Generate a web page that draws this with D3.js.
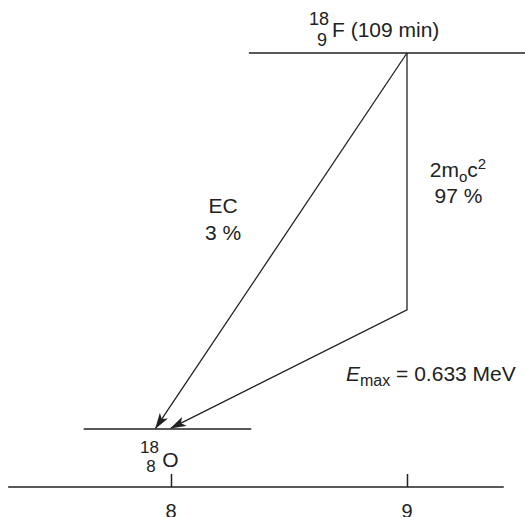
<!DOCTYPE html>
<html>
<head>
<meta charset="utf-8">
<script src="https://cdn.jsdelivr.net/npm/d3@7"></script>
<style>
  body { margin: 0; background: #fff; }
  text { font-family: "Liberation Sans", Arial, sans-serif; fill: #222; }
</style>
</head>
<body>
<div id="chart-area"></div>
<script>
var width = 525, height = 517;

// atomic number axis
var zTicks = [8, 9];
var zDomain = [7.31, 9.41];

// energy levels (MeV, drawn scale) and their Z extent
var levels = [
    { name: "F", z0: 8.33, z1: 9.6, e: 1.655 },
    { name: "O", z0: 7.63, z1: 8.34, e: 0 }
];

// decay branches: from (z, e) through optional bend to (z, e)
var ecBranch = [[9, 1.655], [7.935, 0.004]];
var betaBranch = [[9, 1.655], [9, 0.524], [8.0, 0.004]];

var x = d3.scaleLinear().domain([8, 9]).range([171, 407]);
var y = d3.scaleLinear().domain([0, 1.655]).range([429, 53]);

var svg = d3.select("#chart-area")
    .append("svg")
        .attr("width", width)
        .attr("height", height);

var defs = svg.append("defs");
defs.append("marker")
    .attr("id", "arrow")
    .attr("viewBox", "0 0 16 10")
    .attr("refX", 15)
    .attr("refY", 5)
    .attr("markerWidth", 16)
    .attr("markerHeight", 10)
    .attr("markerUnits", "userSpaceOnUse")
    .attr("orient", "auto")
  .append("path")
    .attr("d", "M0,0 L16,5 L0,10 L4,5 Z")
    .attr("fill", "#222");

// Z axis
var axis = svg.append("g")
    .attr("transform", "translate(0,487)")
    .call(d3.axisTop(x).tickValues(zTicks).tickSize(13).tickFormat(""));
axis.select(".domain").remove();
axis.selectAll("line").attr("stroke", "#222").attr("stroke-width", 1.5);
axis.append("line")
    .attr("x1", x(zDomain[0])).attr("x2", x(zDomain[1]))
    .attr("stroke", "#222").attr("stroke-width", 1.5);
axis.selectAll(".zlab")
    .data(zTicks)
    .enter().append("text")
    .attr("x", d => x(d))
    .attr("y", 31)
    .attr("text-anchor", "middle")
    .style("font-size", "20px")
    .text(d => d);

// levels
svg.selectAll(".level")
    .data(levels)
    .enter().append("line")
    .attr("x1", d => x(d.z0))
    .attr("x2", d => x(d.z1))
    .attr("y1", d => y(d.e))
    .attr("y2", d => y(d.e))
    .attr("stroke", "#222")
    .attr("stroke-width", 1.5);

var line = d3.line().x(d => x(d[0])).y(d => y(d[1]));

svg.selectAll(".branch")
    .data([ecBranch, betaBranch])
    .enter().append("path")
    .attr("d", line)
    .attr("fill", "none")
    .attr("stroke", "#222")
    .attr("stroke-width", 1.3)
    .attr("marker-end", "url(#arrow)");

// labels
var fs = "21px", fsi = "18px";
svg.append("text").attr("x", 332).attr("y", 37).style("font-size", fs).text("F (109 min)");
svg.append("text").attr("x", 319).attr("y", 25).attr("text-anchor", "middle").style("font-size", fsi).text("18");
svg.append("text").attr("x", 322).attr("y", 46).attr("text-anchor", "middle").style("font-size", fsi).text("9");

svg.append("text").attr("x", 149.5).attr("y", 453).attr("text-anchor", "middle").style("font-size", "17px").text("18");
svg.append("text").attr("x", 151).attr("y", 472).attr("text-anchor", "middle").style("font-size", "17px").text("8");
svg.append("text").attr("x", 170.5).attr("y", 467).attr("text-anchor", "middle").style("font-size", fs).text("O");

svg.append("text").attr("x", 223).attr("y", 213).attr("text-anchor", "middle").style("font-size", fs).text("EC");
svg.append("text").attr("x", 223).attr("y", 240).attr("text-anchor", "middle").style("font-size", fs).text("3 %");

var m = svg.append("text").attr("x", 458).attr("y", 177).attr("text-anchor", "middle").style("font-size", fs);
m.append("tspan").text("2m");
m.append("tspan").attr("dy", 5).style("font-size", "15px").text("o");
m.append("tspan").attr("dy", -5).text("c");
m.append("tspan").attr("dy", -8).style("font-size", "15px").text("2");
svg.append("text").attr("x", 458.5).attr("y", 203).attr("text-anchor", "middle").style("font-size", fs).text("97 %");

var e = svg.append("text").attr("x", 346).attr("y", 381).style("font-size", fs);
e.append("tspan").style("font-style", "italic").text("E");
e.append("tspan").attr("dy", 5).style("font-size", "16px").text("max");
e.append("tspan").attr("dy", -5).text(" = 0.633 MeV");
</script>
</body>
</html>
